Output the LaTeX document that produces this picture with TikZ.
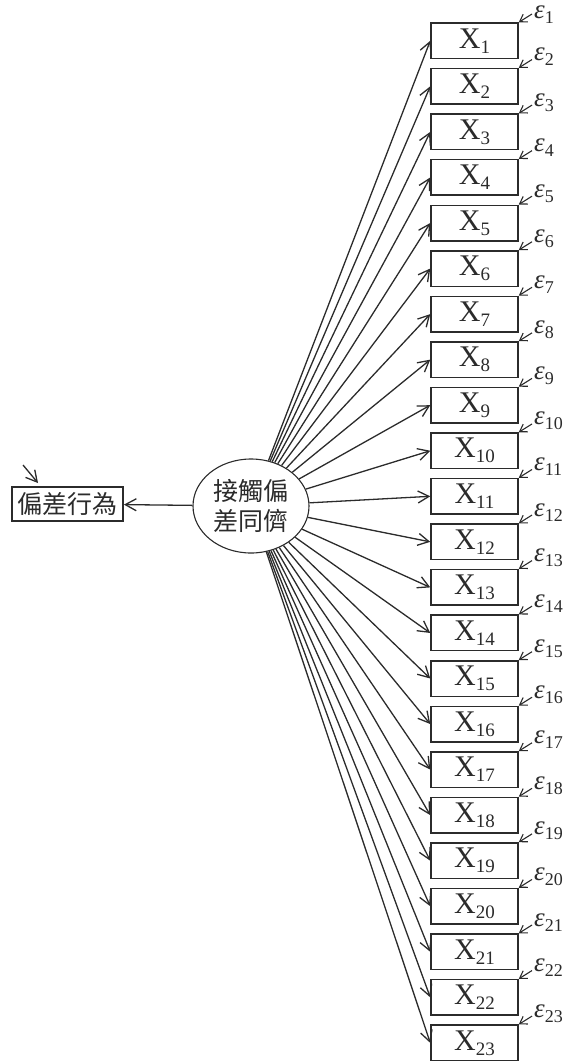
\documentclass[tikz,border=0pt]{standalone}
\usepackage{fontspec}
\setmainfont{Liberation Serif}
\newfontfamily\cjk{Noto Sans CJK TC}
\usetikzlibrary{arrows.meta,shapes.geometric}
\definecolor{lc}{HTML}{2b2b2b}
\begin{document}
\begin{tikzpicture}[x=1pt,y=-1pt,
  obs/.style={draw=lc, line width=1.5pt, minimum width=87pt, minimum height=35.5pt, inner sep=0pt, text=lc, font=\fontsize{30}{30}\selectfont},
  outbox/.style={draw=lc, line width=1.9pt, minimum width=111pt, minimum height=34pt, inner sep=0pt, text=lc, font=\cjk\fontsize{25}{25}\selectfont},
  latent/.style={draw=lc, line width=1.1pt, ellipse, minimum width=116pt, minimum height=94pt, inner sep=0pt, align=center, text=lc, font=\cjk\fontsize{25}{30}\selectfont},
  load/.style={draw=lc, line width=1.3pt, -{Straight Barb[length=11pt,width=12pt,line width=1.3pt]}},
  err/.style={draw=lc, line width=1.1pt, -{Straight Barb[length=7pt,width=9pt,line width=1.1pt]}},
  errlab/.style={anchor=base west, inner sep=0pt, text=lc, font=\fontsize{27}{27}\selectfont}]
\path[use as bounding box] (0,0) rectangle (563,1062);
\node[latent] (F) at (251,506) {接觸偏\\差同儕};
\node[outbox] (Y) at (67.5,504) {偏差行為};
\coordinate (d) at (23,465);
\draw[load] (d) -- ([xshift=27pt,yshift=3pt]Y.north west);
\draw[load] (F) -- (Y);
\foreach \i in {1,...,23}{
  \pgfmathsetmacro\top{23+(\i-1)*45.55}
  \pgfmathsetmacro\cy{\top+17.8}
  \pgfmathsetmacro\lb{\i==1 ? \top-4 : \top-8}
  \node[obs] (X\i) at (474.5,\cy) {X\raisebox{-5pt}{\fontsize{19}{19}\selectfont\i}};
  \coordinate (e\i) at (532,\top-9);
  \node[errlab] (el\i) at (534,\lb) {\textit{ε}\raisebox{-5pt}{\fontsize{18}{18}\selectfont\i}};
  \draw[err] (e\i) -- (X\i.north east);
  \draw[load] (F) -- (X\i.west);
}
\end{tikzpicture}
\end{document}
